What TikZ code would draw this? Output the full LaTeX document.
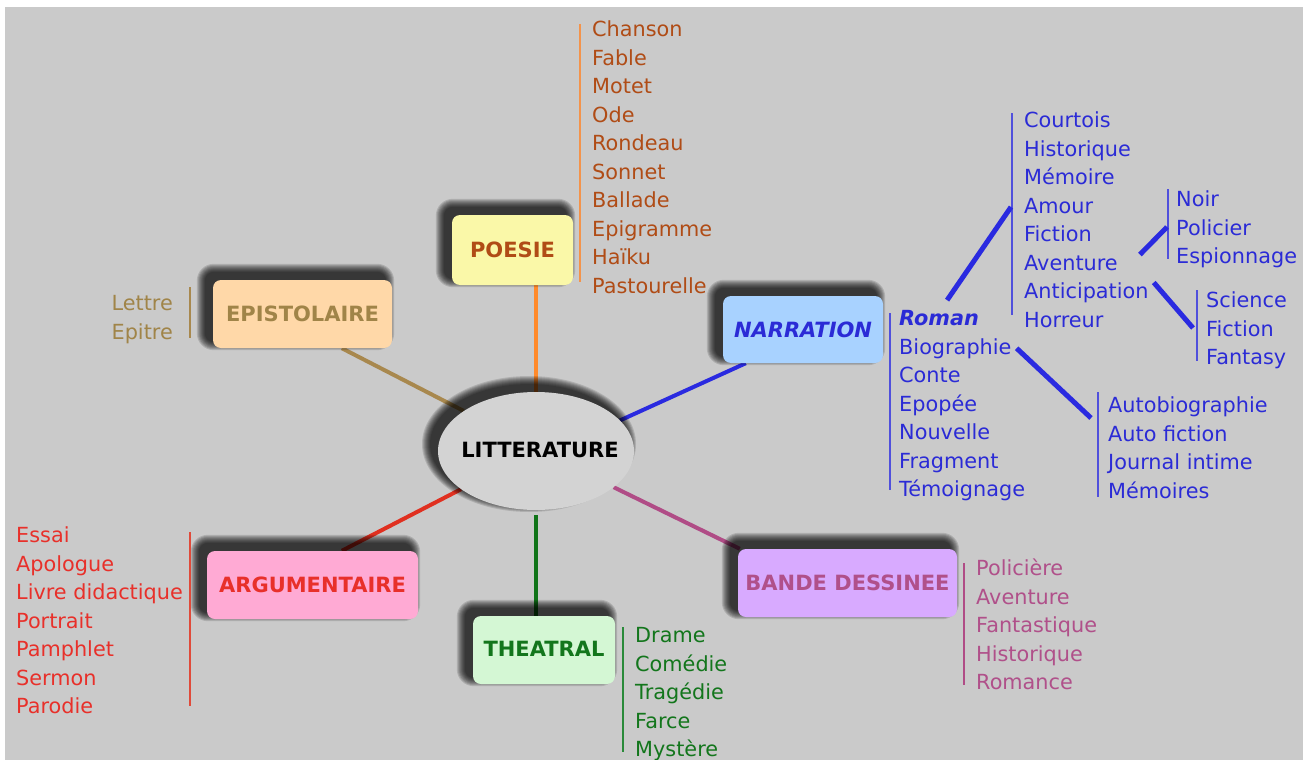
\documentclass[tikz,border=0pt]{standalone}
\usepackage{fontspec}
\setmainfont{DejaVu Sans}
\usetikzlibrary{shapes.geometric}
\definecolor{bg}{HTML}{CACACA}
\definecolor{litfill}{HTML}{D3D3D3}
\definecolor{poefill}{HTML}{FAF8A8}
\definecolor{poetext}{HTML}{B04C16}
\definecolor{poeline}{HTML}{FF8A2A}
\definecolor{poebar}{HTML}{F4934A}
\definecolor{epifill}{HTML}{FFD8A8}
\definecolor{epitext}{HTML}{A08448}
\definecolor{epiline}{HTML}{A8884E}
\definecolor{narfill}{HTML}{A8D2FF}
\definecolor{nartext}{HTML}{2B2BD6}
\definecolor{narline}{HTML}{2A2AE0}
\definecolor{narbar}{HTML}{5050DC}
\definecolor{argfill}{HTML}{FFAAD4}
\definecolor{argtext}{HTML}{E8302A}
\definecolor{argline}{HTML}{E03020}
\definecolor{argbar}{HTML}{E04A3A}
\definecolor{thefill}{HTML}{D4F7D4}
\definecolor{thetext}{HTML}{13761C}
\definecolor{theline}{HTML}{107418}
\definecolor{thebar}{HTML}{2A8A3A}
\definecolor{bdfill}{HTML}{D8AAFF}
\definecolor{bdtext}{HTML}{B0508A}
\definecolor{bdline}{HTML}{B04C86}
\tikzset{
  catbox/.style={rounded corners=8pt, inner sep=0pt, font=\fontsize{21}{25}\selectfont\bfseries},
  item/.style={inner sep=0pt, anchor=base west, font=\fontsize{20.8}{25}\selectfont},
  itemr/.style={inner sep=0pt, anchor=base east, font=\fontsize{20.8}{25}\selectfont},
  conn/.style={line width=4pt},
  subconn/.style={line width=5pt, draw=narline},
  vbar/.style={line width=2pt},
  shadowlayer/.style={fill=black, opacity=0.13}
}
% soft shadow behind a box node, offset up-left
\newcommand\boxshadow[1]{%
  \foreach \e in {1,...,9}{%
    \pgfmathsetmacro\rr{8+\e}%
    \fill[shadowlayer, rounded corners=\rr pt]
      ([shift={(-7-\e,-7-\e)}]#1.north west) rectangle ([shift={(-7+\e,-7+\e)}]#1.south east);
  }%
}
\begin{document}
\begin{tikzpicture}[x=1pt,y=-1pt]
\useasboundingbox (0,0) rectangle (1306,760);
\fill[white] (0,0) rectangle (1306,760);
\fill[bg] (5,7) rectangle (1303,760);

% hub and category box positions
\path (536,451) node[ellipse, minimum width=196pt, minimum height=118pt, inner sep=0pt] (lit) {};
\path (512.5,250) node[minimum width=121pt, minimum height=70pt, inner sep=0pt] (poesie) {};
\path (302.5,314) node[minimum width=179pt, minimum height=68pt, inner sep=0pt] (epist) {};
\path (803,329.5) node[minimum width=160pt, minimum height=67pt, inner sep=0pt] (narr) {};
\path (312.5,585) node[minimum width=211pt, minimum height=68pt, inner sep=0pt] (arg) {};
\path (544,650) node[minimum width=142pt, minimum height=68pt, inner sep=0pt] (theat) {};
\path (847.5,583) node[minimum width=219pt, minimum height=68pt, inner sep=0pt] (bande) {};

% connectors hub -> categories
\draw[conn, poeline] (lit.north) -- (lit.north |- poesie.south);
\draw[conn, epiline] ([xshift=129pt]epist.south west) -- (lit.151);
\draw[conn, narline] ([xshift=23pt]narr.south west) -- (lit.20);
\draw[conn, argline] ([xshift=135pt]arg.north west) -- (lit.207);
\draw[conn, theline] ([yshift=-5pt]lit.south) -- (lit.south |- theat.north);
\draw[conn, bdline] (lit.-25) -- ([xshift=2pt]bande.north west);

% hub shadow and hub
\foreach \e in {1,...,9}
  \fill[shadowlayer] ([shift={(-7,-7)}]lit.center) ellipse [x radius={98+\e}, y radius={59+\e}];
\node[ellipse, minimum width=196pt, minimum height=118pt, inner sep=0pt, fill=litfill] (litshape) at (lit) {};
\node[font=\fontsize{21}{25}\selectfont\bfseries, text=black, inner sep=0pt] (littext) at (540,450) {LITTERATURE};

% shadows of the boxes
\boxshadow{poesie}
\boxshadow{epist}
\boxshadow{narr}
\boxshadow{arg}
\boxshadow{theat}
\boxshadow{bande}

% category boxes
\node[catbox, fill=poefill, text=poetext, minimum width=121pt, minimum height=70pt] (poesieb) at (poesie) {POESIE};
\node[catbox, fill=epifill, text=epitext, minimum width=179pt, minimum height=68pt] (epistb) at (epist) {EPISTOLAIRE};
\node[catbox, fill=narfill, text=nartext, minimum width=160pt, minimum height=67pt, font=\fontsize{21}{25}\selectfont\bfseries\itshape] (narrb) at (narr) {\raisebox{-2pt}{NARRATION}};
\node[catbox, fill=argfill, text=argtext, minimum width=211pt, minimum height=68pt] (argb) at (arg) {ARGUMENTAIRE};
\node[catbox, fill=thefill, text=thetext, minimum width=142pt, minimum height=68pt] (theatb) at (theat) {\raisebox{3pt}{THEATRAL}};
\node[catbox, fill=bdfill, text=bdtext, minimum width=219pt, minimum height=68pt] (bandeb) at (bande) {BANDE DESSINEE};

% POESIE list
\draw[vbar, poebar] (580,24) -- (580,282);
\foreach \t [count=\i] in {Chanson,Fable,Motet,Ode,Rondeau,Sonnet,Ballade,Epigramme,Haïku,Pastourelle}
  \node[item, text=poetext] (poe\i) at (592,{36.7+28.5*(\i-1)}) {\t};

% EPISTOLAIRE list
\draw[vbar, epiline] (190,287) -- (190,338);
\node[itemr, text=epitext] (epi1) at (173,310.5) {Lettre};
\node[itemr, text=epitext] (epi2) at (173,339) {Epitre};

% NARRATION list
\draw[vbar, narbar] (890,313) -- (890,490);
\node[item, text=nartext, font=\fontsize{20.8}{25}\selectfont\bfseries\itshape] (nar1) at (899,325.5) {Roman};
\foreach \t [count=\i from 2] in {Biographie,Conte,Epopée,Nouvelle,Fragment,Témoignage}
  \node[item, text=nartext] (nar\i) at (899,{325.5+28.5*(\i-1)}) {\t};

% Roman sub-list
\draw[vbar, narbar] (1012,113) -- (1012,315);
\foreach \t [count=\i] in {Courtois,Historique,Mémoire,Amour,Fiction,Aventure,Anticipation,Horreur}
  \node[item, text=nartext] (rs\i) at (1024,{127.5+28.5*(\i-1)}) {\t};
\coordinate (rsb) at (1011,207);
\draw[subconn] ([shift={(8,-10)}]nar1.north) -- (rsb);

% Aventure sub-list
\draw[vbar, narbar] (1168,189) -- (1168,259);
\foreach \t [count=\i] in {Noir,Policier,Espionnage}
  \node[item, text=nartext] (av\i) at (1176,{206.5+28.5*(\i-1)}) {\t};
\coordinate (avb) at (1167,227);
\draw[subconn] ([shift={(22,-8)}]rs6.east) -- (avb);

% Anticipation sub-list
\draw[vbar, narbar] (1197,290) -- (1197,361);
\foreach \t [count=\i] in {Science,Fiction,Fantasy}
  \node[item, text=nartext] (an\i) at (1206,{307.5+28.5*(\i-1)}) {\t};
\coordinate (anb) at (1193,328);
\draw[subconn] ([xshift=5pt]rs7.north east) -- (anb);

% Biographie sub-list
\draw[vbar, narbar] (1098,392) -- (1098,497);
\foreach \t [count=\i] in {Autobiographie,Auto fiction,Journal intime,Mémoires}
  \node[item, text=nartext] (bi\i) at (1108,{412.5+28.5*(\i-1)}) {\t};
\coordinate (bib) at (1091,418);
\draw[subconn] ([xshift=5pt]nar2.east) -- (bib);

% ARGUMENTAIRE list
\draw[vbar, argbar] (190,532) -- (190,706);
\foreach \t [count=\i] in {Essai,Apologue,Livre didactique,Portrait,Pamphlet,Sermon,Parodie}
  \node[item, text=argtext] (ar\i) at (16,{542.5+28.5*(\i-1)}) {\t};

% THEATRAL list
\draw[vbar, thebar] (623,627) -- (623,752);
\foreach \t [count=\i] in {Drame,Comédie,Tragédie,Farce,Mystère}
  \node[item, text=thetext] (th\i) at (635,{642.5+28.5*(\i-1)}) {\t};

% BANDE DESSINEE list
\draw[vbar, bdline] (964,563) -- (964,685);
\foreach \t [count=\i] in {Policière,Aventure,Fantastique,Historique,Romance}
  \node[item, text=bdtext] (bd\i) at (976,{575.5+28.5*(\i-1)}) {\t};
\end{tikzpicture}
\end{document}
